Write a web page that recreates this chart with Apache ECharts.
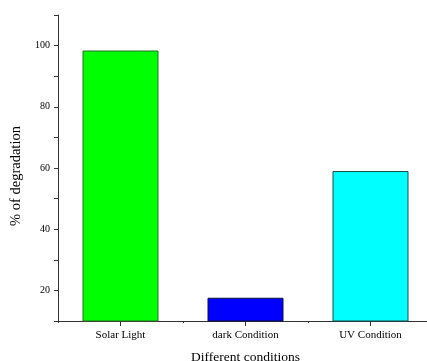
<!DOCTYPE html>
<html><head><meta charset="utf-8">
<script src="https://cdn.jsdelivr.net/npm/echarts@6/dist/echarts.min.js"></script>
<style>html,body{margin:0;padding:0;background:#fff}#c{width:427px;height:361px}</style>
</head><body><div id="c"></div>
<script>
const categories = ['Solar Light', 'dark Condition', 'UV Condition'];
const values = [98.4, 17.6, 59.0];
const barColors = ['#00ff00', '#0000ff', '#00ffff'];
const barBorders = ['#2b6b2b', '#101040', '#1a4a4a'];
const yTickLabels = [20, 40, 60, 80, 100];

const font = 'Liberation Serif, Times New Roman, serif';
const axisColor = '#333';
const chart = echarts.init(document.getElementById('c'));
chart.setOption({
  animation: false,
  grid: { left: 58, right: -6, top: 15, bottom: 40, containLabel: false, outerBoundsMode: 'none' },
  xAxis: [{
    type: 'category', data: categories,
    axisLine: { show: true, lineStyle: { color: axisColor, width: 1 } },
    axisTick: { show: false },
    axisLabel: { fontFamily: font, fontSize: 11, color: '#000', margin: 9 },
    name: 'Different conditions', nameLocation: 'middle', nameGap: 29,
    nameTextStyle: { fontFamily: font, fontSize: 13.5, color: '#000' }
  }, {
    // tick helper in half-category units: major ticks at category boundaries,
    // minor ticks (longer) at category centres
    type: 'value', min: 0, max: 6, interval: 2, position: 'bottom',
    splitLine: { show: false },
    axisLine: { show: false },
    axisTick: { show: true, length: 2, lineStyle: { color: axisColor } },
    minorTick: { show: true, splitNumber: 2, length: 5, lineStyle: { color: axisColor } },
    minorSplitLine: { show: false },
    axisLabel: { show: false }
  }],
  yAxis: {
    type: 'value', min: 10, max: 110, interval: 10,
    splitLine: { show: false },
    axisLine: { show: true, lineStyle: { color: axisColor, width: 1 } },
    axisTick: { show: true, length: 4, lineStyle: { color: axisColor } },
    axisLabel: {
      fontFamily: font, fontSize: 10, color: '#000', margin: 8,
      formatter: v => (yTickLabels.indexOf(v) >= 0 ? String(v) : '')
    },
    name: '% of degradation', nameLocation: 'middle', nameGap: 27,
    nameTextStyle: { fontFamily: font, fontSize: 14.5, color: '#000', padding: [0, 16, 0, 0] }
  },
  series: [{
    type: 'bar', xAxisIndex: 0, barWidth: 76,
    data: values.map((v, i) => ({ value: v, itemStyle: { color: barColors[i], borderColor: barBorders[i], borderWidth: 1 } }))
  }]
});
</script></body></html>
